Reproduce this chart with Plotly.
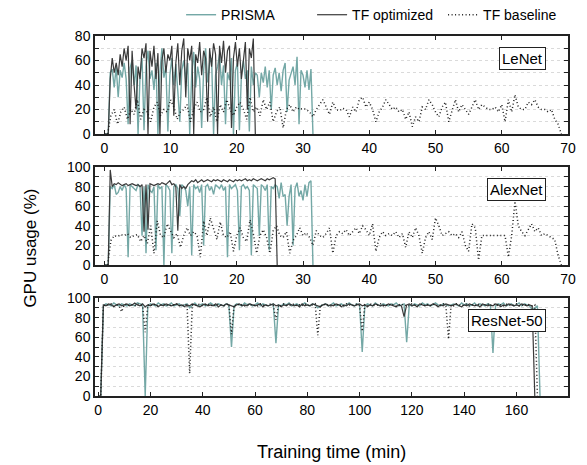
import plotly.graph_objects as go
from plotly.subplots import make_subplots

# sampling interval of every trace, in minutes
lenet_dt = 0.3
lenet_base_dt = 0.5
alex_dt = 0.3
alex_base_dt = 0.5
resnet_dt = 1.0

# ---- LeNet (GPU usage %) ----
lenet_prisma = [0, 0, 0, 50, 53, 38, 55, 30, 52, 46,
                58, 45, 8, 54, 60, 40, 56, 0, 48, 62,
                3, 55, 68, 45, 52, 36, 58, 0, 50, 70,
                46, 55, 2, 48, 62, 40, 57, 35, 10, 52,
                60, 44, 58, 0, 50, 67, 38, 55, 45, 5,
                52, 70, 42, 58, 62, 0, 48, 55, 65, 40,
                56, 8, 50, 44, 62, 0, 52, 58, 3, 48,
                60, 45, 52, 2, 55, 40, 50, 48, 30, 50,
                42, 55, 38, 52, 20, 48, 54, 40, 50, 35,
                52, 58, 18, 44, 50, 55, 40, 63, 8, 52,
                48, 38, 52, 36, 53, 0]
lenet_opt = [0, 0, 0, 45, 62, 50, 58, 48, 65, 55,
             70, 60, 72, 8, 68, 40, 20, 55, 45, 70,
             62, 74, 0, 68, 55, 72, 45, 66, 0, 60,
             70, 50, 65, 60, 72, 15, 58, 74, 40, 68,
             78, 30, 70, 60, 72, 0, 65, 58, 75, 48,
             68, 62, 10, 70, 55, 74, 65, 0, 72, 58,
             76, 50, 68, 72, 5, 62, 75, 55, 70, 45,
             60, 75, 20, 70, 62, 78, 0]
lenet_base = [0, 0, 15, 20, 8, 18, 22, 12, 20, 16,
              28, 12, 20, 18, 10, 22, 26, 15, 20, 18,
              28, 22, 12, 18, 20, 24, 10, 20, 26, 18,
              20, 30, 14, 22, 10, 24, 18, 28, 20, 15,
              22, 26, 20, 12, 30, 18, 22, 15, 28, 20,
              26, 10, 18, 22, 5, 20, 24, 18, 22, 20,
              21, 20, 18, 14, 20, 24, 28, 22, 16, 26,
              20, 19, 21, 20, 14, 22, 18, 28, 30, 22,
              26, 20, 10, 18, 22, 28, 24, 20, 22, 18,
              20, 12, 18, 6, 14, 10, 22, 20, 28, 24,
              18, 14, 22, 26, 10, 20, 28, 18, 24, 20,
              16, 22, 28, 20, 24, 22, 20, 20, 22, 18,
              24, 10, 28, 18, 32, 22, 20, 20, 26, 24,
              28, 22, 20, 20, 18, 20, 12, 8, 0]

# ---- AlexNet ----
alex_prisma = [0, 0, 0, 80, 78, 82, 72, 74, 80, 76,
               82, 78, 8, 82, 80, 78, 76, 82, 80, 30,
               80, 12, 82, 76, 74, 80, 15, 82, 78, 80,
               0, 82, 80, 76, 12, 80, 82, 78, 50, 82,
               80, 76, 60, 80, 10, 82, 78, 80, 74, 82,
               20, 80, 82, 76, 80, 72, 82, 80, 78, 82,
               76, 80, 8, 82, 78, 80, 82, 76, 15, 80,
               82, 78, 80, 76, 10, 82, 80, 78, 30, 82,
               80, 76, 82, 15, 80, 78, 82, 80, 68, 84,
               70, 72, 40, 70, 82, 20, 78, 84, 70, 76,
               66, 82, 70, 84, 86, 0]
alex_opt = [0, 0, 0, 97, 80, 83, 82, 84, 82, 81,
            82, 83, 81, 82, 83, 82, 81, 82, 80, 82,
            34, 82, 36, 83, 82, 81, 82, 83, 82, 84,
            83, 82, 84, 86, 82, 83, 80, 35, 82, 78,
            80, 78, 82, 84, 86, 85, 87, 84, 86, 87,
            85, 86, 87, 86, 85, 87, 86, 87, 86, 85,
            87, 86, 85, 87, 86, 85, 87, 86, 87, 86,
            87, 88, 86, 87, 86, 88, 87, 86, 87, 88,
            87, 86, 88, 87, 88, 89, 88, 0]
alex_base = [0, 0, 25, 30, 29, 31, 30, 32, 28, 30,
             31, 24, 30, 22, 40, 12, 45, 30, 28, 42,
             35, 28, 32, 18, 30, 38, 30, 34, 30, 8,
             45, 30, 48, 38, 26, 44, 30, 28, 34, 14,
             30, 38, 28, 24, 46, 32, 12, 30, 36, 28,
             12, 35, 40, 30, 28, 34, 12, 25, 30, 38,
             30, 33, 28, 20, 35, 30, 28, 32, 38, 12,
             30, 34, 32, 36, 30, 34, 38, 32, 40, 36,
             30, 42, 14, 28, 34, 30, 32, 30, 34, 28,
             32, 18, 34, 28, 38, 30, 12, 28, 34, 26,
             48, 40, 30, 32, 34, 30, 32, 28, 34, 20,
             14, 42, 38, 5, 30, 30, 30, 30, 30, 30,
             30, 30, 8, 30, 65, 40, 34, 30, 36, 42,
             34, 38, 30, 32, 30, 28, 26, 10, 0]

# ---- ResNet-50 ----
resnet_prisma = [0, 0, 92, 94, 93, 92, 95, 93, 92, 94,
                 93, 92, 94, 93, 92, 95, 94, 93, 0, 92,
                 94, 93, 92, 95, 93, 94, 92, 93, 95, 92,
                 93, 94, 92, 93, 94, 90, 93, 95, 92, 93,
                 94, 92, 93, 95, 93, 92, 94, 93, 92, 94,
                 93, 50, 92, 94, 93, 92, 95, 93, 94, 92,
                 93, 95, 92, 94, 93, 92, 93, 94, 54, 93,
                 92, 94, 93, 95, 92, 93, 94, 92, 93, 95,
                 93, 92, 94, 93, 90, 92, 93, 94, 92, 93,
                 95, 92, 93, 94, 92, 93, 95, 93, 92, 94,
                 93, 45, 92, 94, 93, 92, 95, 93, 92, 94,
                 93, 92, 94, 93, 95, 92, 93, 94, 55, 93,
                 92, 94, 93, 92, 95, 93, 94, 92, 93, 95,
                 93, 92, 94, 93, 92, 93, 94, 93, 92, 95,
                 93, 94, 92, 93, 95, 92, 94, 93, 92, 94,
                 93, 44, 92, 94, 93, 95, 92, 93, 94, 92,
                 93, 95, 92, 94, 93, 92, 88, 90, 92, 0]
resnet_opt = [0, 0, 93, 92, 94, 93, 91, 93, 94, 92,
              93, 94, 92, 93, 95, 93, 92, 94, 91, 93,
              92, 94, 93, 91, 93, 92, 94, 93, 92, 93,
              94, 92, 93, 91, 93, 92, 94, 93, 92, 91,
              93, 94, 92, 93, 92, 94, 91, 93, 92, 94,
              93, 92, 91, 93, 94, 92, 93, 92, 94, 93,
              92, 93, 94, 91, 93, 92, 93, 94, 92, 93,
              91, 93, 92, 94, 93, 92, 93, 91, 94, 92,
              93, 92, 94, 93, 92, 91, 93, 94, 92, 93,
              92, 94, 93, 91, 93, 92, 94, 93, 92, 93,
              94, 92, 93, 91, 93, 92, 94, 93, 92, 93,
              92, 94, 93, 92, 91, 93, 92, 81, 93, 94,
              92, 93, 91, 94, 93, 92, 93, 92, 94, 93,
              91, 93, 92, 94, 93, 92, 93, 94, 92, 91,
              93, 92, 94, 93, 92, 93, 91, 94, 93, 92,
              93, 92, 94, 93, 91, 93, 92, 94, 93, 92,
              93, 92, 94, 93, 92, 93, 92, 0]
resnet_base = [0, 0, 93, 92, 93, 94, 92, 93, 92, 86,
               93, 94, 92, 93, 92, 94, 93, 92, 65, 93,
               92, 94, 93, 92, 93, 94, 92, 93, 92, 93,
               94, 92, 93, 92, 94, 23, 93, 92, 94, 93,
               92, 93, 94, 92, 93, 92, 94, 93, 92, 93,
               94, 63, 93, 92, 94, 93, 92, 93, 94, 92,
               93, 92, 94, 93, 92, 93, 94, 92, 78, 93,
               92, 94, 93, 92, 93, 94, 92, 93, 92, 94,
               93, 92, 93, 94, 62, 93, 92, 94, 93, 92,
               93, 94, 92, 93, 92, 94, 93, 92, 93, 94,
               92, 66, 93, 92, 94, 93, 92, 93, 94, 92,
               93, 92, 94, 93, 92, 93, 94, 92, 93, 92,
               94, 93, 92, 93, 94, 92, 93, 92, 94, 93,
               92, 93, 94, 92, 58, 93, 92, 94, 93, 92,
               93, 94, 92, 93, 92, 94, 93, 92, 93, 94,
               92, 93, 94, 92, 93, 92, 94, 93, 92, 93,
               94, 92, 93, 92, 94, 93, 92, 93, 0]

model_names = ['LeNet', 'AlexNet', 'ResNet-50']
series_names = ['PRISMA', 'TF optimized', 'TF baseline']

teal = '#74a8a6'
dark = '#3a3a3a'
dotc = '#1e1e1e'
gridc = '#dadada'
font = 'Liberation Sans, Arial, Helvetica, sans-serif'

fig = make_subplots(rows=3, cols=1, vertical_spacing=33 / 360)

panels = [
    (lenet_prisma, lenet_dt, lenet_opt, lenet_dt, lenet_base, lenet_base_dt),
    (alex_prisma, alex_dt, alex_opt, alex_dt, alex_base, alex_base_dt),
    (resnet_prisma, resnet_dt, resnet_opt, resnet_dt, resnet_base, resnet_dt),
]

for row, (p, pdt, o, odt, b, bdt) in enumerate(panels, start=1):
    first = row == 1
    fig.add_trace(go.Scatter(y=p, x0=0, dx=pdt, mode='lines', name=series_names[0],
                             line=dict(color=teal, width=1.4), showlegend=first),
                  row=row, col=1)
    fig.add_trace(go.Scatter(y=o, x0=0, dx=odt, mode='lines', name=series_names[1],
                             line=dict(color=dark, width=1.2), showlegend=first),
                  row=row, col=1)
    fig.add_trace(go.Scatter(y=b, x0=0, dx=bdt, mode='lines', name=series_names[2],
                             line=dict(color=dotc, width=1.5, dash='1px,2.5px'),
                             showlegend=first),
                  row=row, col=1)

axis_common = dict(showline=True, linecolor='#222', linewidth=1.5, mirror='ticks',
                   ticks='inside', tickcolor='#222', ticklen=4, zeroline=False,
                   tickfont=dict(size=14, color='black', family=font))

x_ranges = [[-1.4, 70], [-1.4, 70], [-1.2, 179.7]]
x_dticks = [10, 10, 20]
y_ranges = [[0, 80], [0, 100], [0, 100]]

for i in range(3):
    fig.update_xaxes(range=x_ranges[i], dtick=x_dticks[i], tick0=0, showgrid=False,
                     row=i + 1, col=1, **axis_common)
    fig.update_yaxes(range=y_ranges[i], dtick=20, tick0=0, showgrid=True,
                     gridcolor=gridc, griddash='dot', gridwidth=1,
                     minor=dict(dtick=10, ticks='inside', ticklen=4, tickcolor='#222',
                                showgrid=True, gridcolor=gridc, griddash='dot'),
                     row=i + 1, col=1, **axis_common)

for i, name in enumerate(model_names):
    sfx = '' if i == 0 else str(i + 1)
    fig.add_annotation(text=name, xref='x' + sfx + ' domain', yref='y' + sfx + ' domain',
                       x=0.953, y=0.77, xanchor='right', yanchor='middle', showarrow=False,
                       font=dict(size=15, color='black', family=font),
                       bgcolor='white', bordercolor='#222', borderwidth=1, borderpad=2)

fig.add_annotation(text='GPU usage (%)', xref='paper', yref='paper', x=-0.137, y=0.41,
                   textangle=-90, showarrow=False, xanchor='center', yanchor='middle',
                   font=dict(size=17, color='black', family=font))
fig.add_annotation(text='Training time (min)', xref='paper', yref='paper', x=0.501, y=-0.156,
                   showarrow=False, xanchor='center', yanchor='middle',
                   font=dict(size=18, color='black', family=font))

# the page body adds an 8px offset, so the figure is 8px smaller than the window
fig.update_layout(
    width=579, height=457,
    margin=dict(l=87, r=19, t=28, b=69, autoexpand=False),
    plot_bgcolor='white', paper_bgcolor='white',
    font=dict(family=font, color='black'),
    legend=dict(orientation='h', x=0.182, xanchor='left', y=1.058, yanchor='middle',
                font=dict(size=14, family=font, color='black'),
                bgcolor='rgba(0,0,0,0)', entrywidth=86),
)

fig.write_html("out.html")
